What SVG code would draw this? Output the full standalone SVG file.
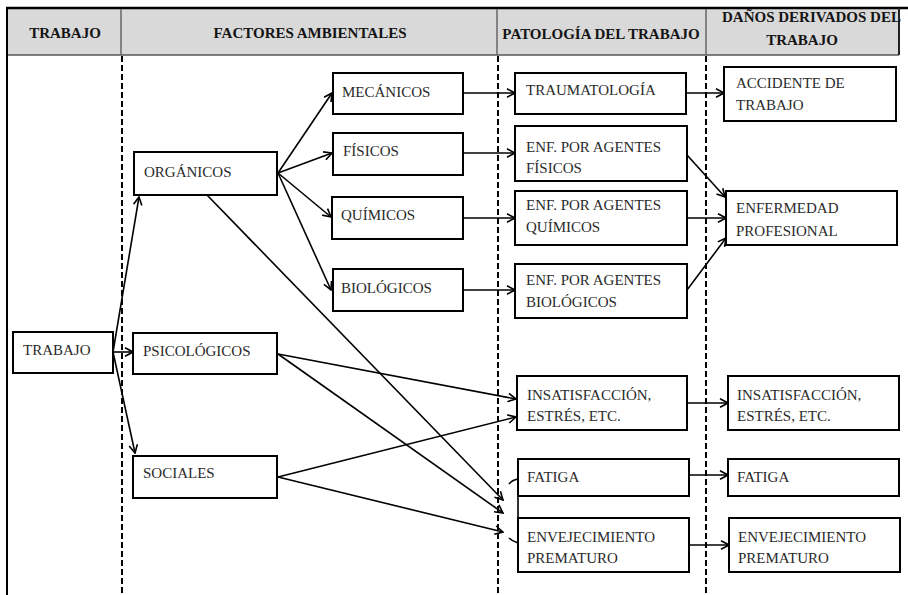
<svg xmlns="http://www.w3.org/2000/svg" width="908" height="595" viewBox="0 0 908 595">
  <style>
    .hdr { fill: #d9d9d9; }
    .htxt { font-family: 'Liberation Serif', 'DejaVu Serif', serif; font-weight: bold; font-size: 15px; fill: #141414; }
    .box { fill: #ffffff; stroke: #000; stroke-width: 2; }
    .lbl { font-family: 'Liberation Serif', 'DejaVu Serif', serif; font-size: 15px; fill: #2a2a2a; }
    .col { stroke: #000; stroke-width: 2; stroke-dasharray: 6 3; fill: none; }
    .edge { stroke: #000; stroke-width: 1.6; fill: none; marker-end: url(#arrow); }
    .plain { stroke: #000; stroke-width: 1.6; fill: none; }
  </style>
  <defs>
    <marker id="arrow" viewBox="0 0 10 10" refX="9" refY="5" markerWidth="10" markerHeight="10" markerUnits="userSpaceOnUse" orient="auto">
      <path d="M1,0.8 L9,5 L1,9.2" fill="none" stroke="#000" stroke-width="1.6"/>
    </marker>
  </defs>

  <rect width="908" height="595" fill="#ffffff"/>

  <!-- header band -->
  <g id="header">
    <rect class="hdr" x="7" y="9" width="892" height="46"/>
    <line x1="6" y1="8" x2="908" y2="8" stroke="#000" stroke-width="2.5"/>
    <line x1="7" y1="55" x2="899" y2="55" stroke="#555" stroke-width="1.5"/>
    <line x1="899" y1="8" x2="899" y2="55" stroke="#222" stroke-width="2"/>
    <line x1="121" y1="9" x2="121" y2="55" stroke="#666" stroke-width="1.5"/>
    <line x1="497" y1="9" x2="497" y2="55" stroke="#666" stroke-width="1.5"/>
    <line x1="706" y1="9" x2="706" y2="55" stroke="#666" stroke-width="1.5"/>
    <text class="htxt" font-family="Liberation Serif, DejaVu Serif, serif" x="65" y="38" text-anchor="middle">TRABAJO</text>
    <text class="htxt" font-family="Liberation Serif, DejaVu Serif, serif" x="310" y="38" text-anchor="middle">FACTORES AMBIENTALES</text>
    <text class="htxt" font-family="Liberation Serif, DejaVu Serif, serif" x="601" y="39" text-anchor="middle">PATOLOGÍA DEL TRABAJO</text>
    <text class="htxt" font-family="Liberation Serif, DejaVu Serif, serif" x="722" y="22">DAÑOS DERIVADOS DEL</text>
    <text class="htxt" font-family="Liberation Serif, DejaVu Serif, serif" x="802" y="45" text-anchor="middle">TRABAJO</text>
  </g>

  <!-- column borders -->
  <g id="columns">
    <line x1="7" y1="8" x2="7" y2="595" stroke="#000" stroke-width="2"/>
    <line class="col" x1="122" y1="56" x2="122" y2="595"/>
    <line class="col" x1="498" y1="56" x2="498" y2="595"/>
    <line class="col" x1="706" y1="56" x2="706" y2="595"/>
  </g>

  <!-- connectors -->
  <g id="connectors">
    <line class="edge" x1="113" y1="352" x2="139" y2="197"/>
    <line class="edge" x1="113" y1="352" x2="133" y2="352"/>
    <line class="edge" x1="113" y1="352" x2="135" y2="453"/>

    <line class="edge" x1="278" y1="173" x2="332" y2="93"/>
    <line class="edge" x1="278" y1="173" x2="332" y2="153"/>
    <line class="edge" x1="278" y1="173" x2="331" y2="217"/>
    <line class="edge" x1="278" y1="173" x2="331" y2="290"/>
    <line class="edge" x1="207" y1="195" x2="503" y2="500"/>

    <line class="edge" x1="278" y1="354" x2="516" y2="399"/>
    <line class="edge" x1="278" y1="354" x2="503" y2="513"/>
    <line class="edge" x1="278" y1="477" x2="516" y2="417"/>
    <line class="edge" x1="278" y1="477" x2="503" y2="532"/>

    <line class="edge" x1="463" y1="93" x2="515" y2="93"/>
    <line class="edge" x1="463" y1="153" x2="515" y2="153"/>
    <line class="edge" x1="463" y1="218" x2="515" y2="218"/>
    <line class="edge" x1="463" y1="290" x2="515" y2="290"/>

    <line class="edge" x1="686" y1="93" x2="724" y2="93"/>
    <line class="edge" x1="687" y1="155" x2="725" y2="197"/>
    <line class="edge" x1="687" y1="218" x2="726" y2="218"/>
    <line class="edge" x1="687" y1="290" x2="726" y2="238"/>

    <line class="edge" x1="687" y1="403" x2="728" y2="403"/>
    <line class="edge" x1="689" y1="475" x2="728" y2="475"/>
    <line class="edge" x1="689" y1="545" x2="729" y2="545"/>

    <!-- bracket gathering the three incoming arrows -->
    <path class="plain" d="M509,484 Q512,480 518,479 L518,543 Q512,541 509,538"/>
  </g>

  <g font-family="Liberation Serif, DejaVu Serif, serif">
  <!-- column 1 -->
  <g id="n-trabajo">
    <rect class="box" x="13" y="332" width="100" height="41"/>
    <text class="lbl" x="23" y="355">TRABAJO</text>
  </g>

  <!-- column 2 -->
  <g id="n-organicos">
    <rect class="box" x="134" y="152" width="143" height="43"/>
    <text class="lbl" x="144" y="177">ORGÁNICOS</text>
  </g>
  <g id="n-psicologicos">
    <rect class="box" x="133" y="333" width="144" height="41"/>
    <text class="lbl" x="143" y="356">PSICOLÓGICOS</text>
  </g>
  <g id="n-sociales">
    <rect class="box" x="133" y="456" width="144" height="42"/>
    <text class="lbl" x="143" y="478">SOCIALES</text>
  </g>
  <g id="n-mecanicos">
    <rect class="box" x="333" y="73" width="130" height="41"/>
    <text class="lbl" x="342" y="97">MECÁNICOS</text>
  </g>
  <g id="n-fisicos">
    <rect class="box" x="333" y="133" width="130" height="42"/>
    <text class="lbl" x="343" y="156">FÍSICOS</text>
  </g>
  <g id="n-quimicos">
    <rect class="box" x="332" y="197" width="131" height="42"/>
    <text class="lbl" x="341" y="220">QUÍMICOS</text>
  </g>
  <g id="n-biologicos">
    <rect class="box" x="333" y="269" width="130" height="42"/>
    <text class="lbl" x="341" y="293">BIOLÓGICOS</text>
  </g>

  <!-- column 3 -->
  <g id="n-traumatologia">
    <rect class="box" x="515" y="73" width="171" height="41"/>
    <text class="lbl" x="526" y="95">TRAUMATOLOGÍA</text>
  </g>
  <g id="n-enf-fisicos">
    <rect class="box" x="515" y="126" width="172" height="55"/>
    <text class="lbl" x="526" y="152">ENF. POR AGENTES</text>
    <text class="lbl" x="526" y="173">FÍSICOS</text>
  </g>
  <g id="n-enf-quimicos">
    <rect class="box" x="515" y="191" width="172" height="54"/>
    <text class="lbl" x="526" y="210">ENF. POR AGENTES</text>
    <text class="lbl" x="526" y="232">QUÍMICOS</text>
  </g>
  <g id="n-enf-biologicos">
    <rect class="box" x="515" y="264" width="172" height="54"/>
    <text class="lbl" x="526" y="285">ENF. POR AGENTES</text>
    <text class="lbl" x="526" y="307">BIOLÓGICOS</text>
  </g>
  <g id="n-insatisfaccion">
    <rect class="box" x="517" y="376" width="170" height="54"/>
    <text class="lbl" x="527" y="400">INSATISFACCIÓN,</text>
    <text class="lbl" x="527" y="421">ESTRÉS, ETC.</text>
  </g>
  <g id="n-fatiga">
    <rect class="box" x="518" y="459" width="171" height="37"/>
    <text class="lbl" x="527" y="482">FATIGA</text>
  </g>
  <g id="n-envejecimiento">
    <rect class="box" x="518" y="518" width="171" height="54"/>
    <text class="lbl" x="527" y="542">ENVEJECIMIENTO</text>
    <text class="lbl" x="527" y="563">PREMATURO</text>
  </g>

  <!-- column 4 -->
  <g id="n-accidente">
    <rect class="box" x="724" y="67" width="172" height="54"/>
    <text class="lbl" x="736" y="88">ACCIDENTE DE</text>
    <text class="lbl" x="736" y="110">TRABAJO</text>
  </g>
  <g id="n-enfermedad">
    <rect class="box" x="726" y="191" width="171" height="54"/>
    <text class="lbl" x="736" y="213">ENFERMEDAD</text>
    <text class="lbl" x="736" y="236">PROFESIONAL</text>
  </g>
  <g id="n-insatisfaccion-dano">
    <rect class="box" x="728" y="376" width="171" height="54"/>
    <text class="lbl" x="737" y="400">INSATISFACCIÓN,</text>
    <text class="lbl" x="737" y="421">ESTRÉS, ETC.</text>
  </g>
  <g id="n-fatiga-dano">
    <rect class="box" x="728" y="459" width="171" height="37"/>
    <text class="lbl" x="737" y="482">FATIGA</text>
  </g>
  <g id="n-envejecimiento-dano">
    <rect class="box" x="729" y="518" width="171" height="54"/>
    <text class="lbl" x="738" y="542">ENVEJECIMIENTO</text>
    <text class="lbl" x="738" y="563">PREMATURO</text>
  </g>
  </g>
</svg>
